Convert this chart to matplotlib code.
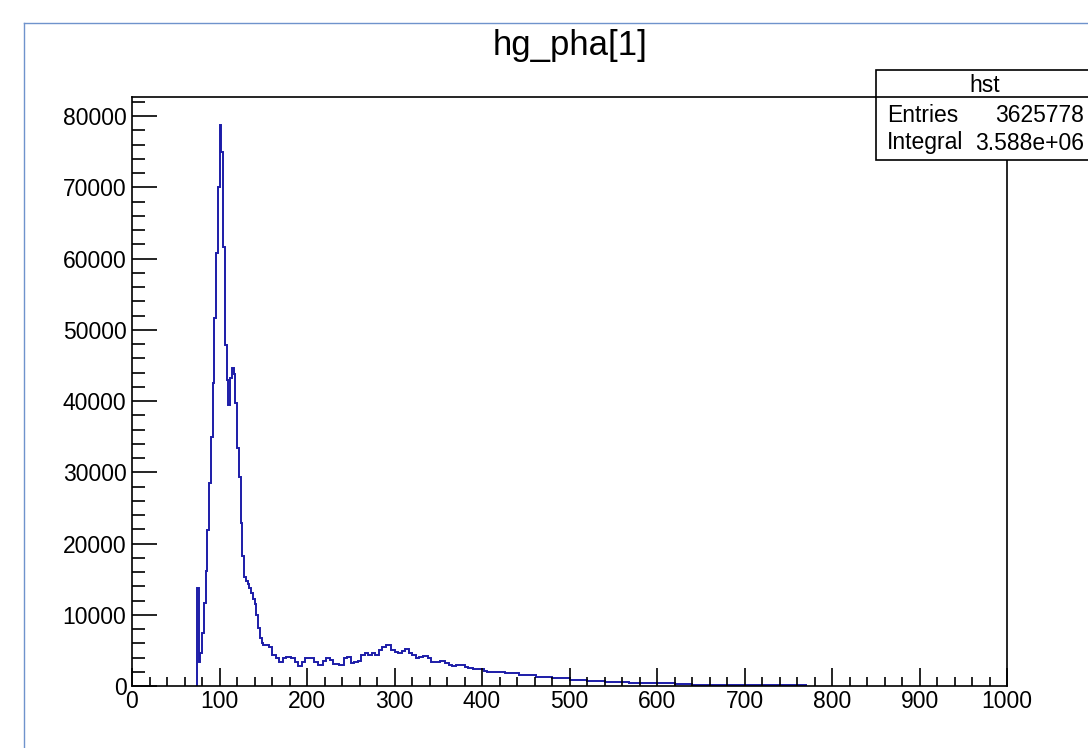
import numpy as np
import matplotlib
matplotlib.use("Agg")
import matplotlib.pyplot as plt
from matplotlib.patches import Rectangle
from matplotlib.lines import Line2D
from matplotlib.ticker import MultipleLocator

plt.rcParams['font.family'] = ['Liberation Sans', 'DejaVu Sans']

# step edges (left edge of each visible step) and the counts
edges = [74, 76, 78, 80, 82, 84, 86, 88, 90, 92, 94, 96, 98, 100, 102, 104,
         106, 108, 110, 112, 114, 116, 118, 120, 122, 124, 126, 128, 130, 132,
         134, 136, 138, 140, 142, 144, 146, 148, 150, 152, 156, 160, 164, 168,
         172, 176, 182, 186, 190, 194, 198, 204, 208, 212, 218, 222, 226, 230,
         236, 242, 246, 250, 254, 258, 262, 266, 270, 274, 278, 282, 286, 290,
         296, 300, 304, 308, 312, 316, 320, 324, 328, 332, 338, 342, 352, 358,
         362, 366, 370, 380, 384, 390, 402, 406, 426, 442, 462, 480, 500, 520,
         540, 568, 620, 640, 760, 770]
counts = [13700, 3300, 4600, 7400, 11600, 16200, 21900, 28500, 35000, 42500,
          51600, 60800, 70000, 78800, 75000, 61600, 47900, 43000, 39400, 43200,
          44600, 43800, 39800, 33400, 29400, 22900, 18200, 15300, 14800, 14300,
          13700, 13000, 12200, 11500, 10000, 8200, 6700, 6100, 5800, 5700,
          5500, 4400, 3900, 3400, 3900, 4100, 4000, 3400, 2800, 3300,
          3900, 4000, 3300, 2950, 3500, 3900, 3700, 3100, 2950, 3900,
          4100, 3200, 3300, 3500, 4300, 4600, 4400, 4700, 4300, 5100,
          5500, 5750, 5000, 4800, 4600, 4900, 5200, 4700, 4400, 4000,
          4100, 4200, 3900, 3400, 3500, 3200, 3000, 2750, 2950, 2600,
          2480, 2340, 2150, 2010, 1780, 1540, 1310, 1080, 840, 700,
          560, 370, 280, 200, 140]

title = "hg_pha[1]"
stats_name = "hst"
n_entries = "3625778"
integral = "3.588e+06"

W, H = 1088, 748
fig = plt.figure(figsize=(W / 100, H / 100), dpi=100)
ax = fig.add_axes([132 / W, 1 - 686 / H, (1007 - 132) / W, (686 - 97) / H])

ax.stairs(counts, edges, baseline=0, color='#1c1ca8', lw=1.4)

ax.set_xlim(0, 1000)
ax.set_ylim(0, 82700)
ax.xaxis.set_major_locator(MultipleLocator(100))
ax.xaxis.set_minor_locator(MultipleLocator(20))
ax.yaxis.set_major_locator(MultipleLocator(10000))
ax.yaxis.set_minor_locator(MultipleLocator(2000))
ax.tick_params(axis='x', which='major', direction='in', length=13, width=1.2,
               labelsize=16.5, pad=3, top=False)
ax.tick_params(axis='x', which='minor', direction='in', length=6.5, width=1.2, top=False)
ax.tick_params(axis='y', which='major', direction='in', length=18, width=1.2,
               labelsize=16.5, pad=4, right=False)
ax.tick_params(axis='y', which='minor', direction='in', length=9, width=1.2, right=False)
for s in ax.spines.values():
    s.set_linewidth(1.2)

fig.text(570 / W, 1 - 45 / H, title, ha='center', va='center', fontsize=25)

# canvas border
fig.add_artist(Line2D([24 / W, 24 / W], [0, 1 - 23 / H], color='#6f93cc', lw=1,
                      transform=fig.transFigure))
fig.add_artist(Line2D([24 / W, 1], [1 - 23 / H, 1 - 23 / H], color='#6f93cc', lw=1,
                      transform=fig.transFigure))

# stats box
bx0, by0, by1 = 876, 70, 160
fig.add_artist(Rectangle((bx0 / W, 1 - by1 / H), (1100 - bx0) / W, (by1 - by0) / H,
                         transform=fig.transFigure, facecolor='white',
                         edgecolor='black', lw=1.2, zorder=5))
fig.add_artist(Line2D([bx0 / W, 1], [1 - 97 / H, 1 - 97 / H], color='black', lw=1.2,
                      transform=fig.transFigure, zorder=6))
fig.text(985 / W, 1 - 86 / H, stats_name, ha='center', va='center', fontsize=16.5, zorder=7)
fig.text(887 / W, 1 - 115 / H, "Entries", ha='left', va='center', fontsize=16.5, zorder=7)
fig.text(1084 / W, 1 - 115 / H, n_entries, ha='right', va='center', fontsize=16.5, zorder=7)
fig.text(887 / W, 1 - 142 / H, "Integral", ha='left', va='center', fontsize=16.5, zorder=7)
fig.text(1084 / W, 1 - 144 / H, integral, ha='right', va='center', fontsize=16.5, zorder=7)

fig.savefig("out.png", dpi=100)
